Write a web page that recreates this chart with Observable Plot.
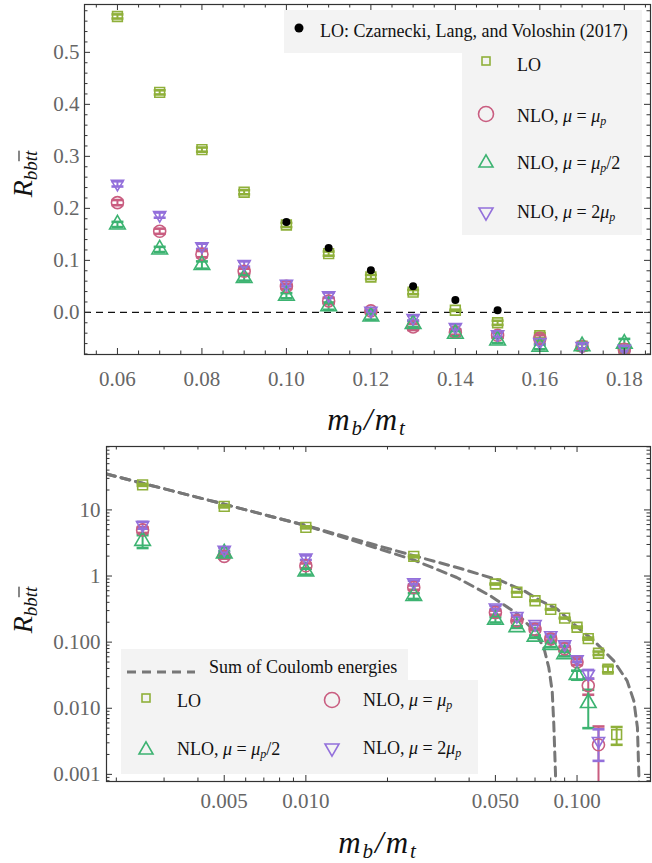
<!DOCTYPE html>
<html><head><meta charset="utf-8">
<script src="https://cdn.jsdelivr.net/npm/d3@7"></script>
<script src="https://cdn.jsdelivr.net/npm/@observablehq/plot@0.6"></script>
<style>
body{margin:0;background:#fff;}
#wrap{position:relative;width:652px;height:863px;font-family:"Liberation Serif",serif;color:#111;}
.abs{position:absolute;}
.plot{position:absolute;left:0;}
.ttl{position:absolute;font-family:"Liberation Serif",serif;font-style:italic;font-size:28px;white-space:nowrap;transform:translate(-50%,-50%);color:#111;}
.ttl sub{font-size:19px;vertical-align:-5px;}
.xtl{font-size:31px;letter-spacing:2px;}
.xtl sub{font-size:21px;}
.ytl{transform:translate(-50%,-50%) rotate(-90deg);}
.lbox{position:absolute;background:#f3f3f3;}
.ltxt{position:absolute;font-size:18px;white-space:nowrap;transform:translateY(-50%);color:#111;}
.ltxt i{font-style:italic;}
.ltxt sub{font-size:12px;font-style:italic;vertical-align:-3px;}
</style></head><body><div id="wrap"></div>
<script>
// ---------------- data ----------------
const massRatio = [0.0025, 0.005, 0.01, 0.025, 0.05, 0.06, 0.07, 0.08, 0.09, 0.10, 0.11, 0.12, 0.13, 0.14, 0.15, 0.16, 0.17, 0.18];
const rLO       = [23.9, 11.3, 5.45, 1.98, 0.757, 0.569, 0.423, 0.313, 0.231, 0.168, 0.113, 0.068, 0.039, 0.0040, -0.020, -0.045, -0.065, -0.070];
const errLO     = [0.8, 0.4, 0.2, 0.06, 0.015, 0.004, 0.004, 0.004, 0.004, 0.004, 0.004, 0.004, 0.004, 0.0012, 0.004, 0.005, 0.004, 0.004];
const rNLO      = [4.98, 1.98, 1.43, 0.67, 0.28, 0.211, 0.156, 0.112, 0.079, 0.050, 0.022, 0.0028, -0.028, -0.038, -0.044, -0.050, -0.065, -0.071];
const errNLO    = [0.5, 0.15, 0.12, 0.05, 0.02, 0.005, 0.005, 0.006, 0.005, 0.005, 0.006, 0.0025, 0.006, 0.005, 0.005, 0.006, 0.005, 0.006];
const rNLOhalf  = [3.4, 2.2, 1.17, 0.50, 0.218, 0.169, 0.121, 0.091, 0.066, 0.032, 0.012, -0.008, -0.022, -0.041, -0.054, -0.066, -0.065, -0.060];
const errNLOhalf= [0.75, 0.2, 0.12, 0.05, 0.02, 0.005, 0.005, 0.007, 0.005, 0.005, 0.007, 0.006, 0.006, 0.005, 0.005, 0.005, 0.005, 0.009];
const rNLOdouble= [5.9, 2.5, 1.9, 0.80, 0.334, 0.247, 0.187, 0.127, 0.093, 0.055, 0.033, 0.0032, -0.011, -0.028, -0.042, -0.057, -0.065, -0.070];
const errNLOdouble=[0.7, 0.2, 0.15, 0.05, 0.02, 0.005, 0.005, 0.005, 0.005, 0.005, 0.005, 0.0016, 0.005, 0.005, 0.005, 0.005, 0.005, 0.005];

const czarneckiX = [0.10, 0.11, 0.12, 0.13, 0.14, 0.15];
const czarneckiY = [0.174, 0.124, 0.081, 0.050, 0.024, 0.004];

const coulombUpperX = [0.00184, 0.0025, 0.005, 0.01, 0.0126, 0.025, 0.0372, 0.0523, 0.0637, 0.0733, 0.0845, 0.0973, 0.1153, 0.1367, 0.153, 0.162, 0.167, 0.169, 0.1695];
const coulombUpperY = [35, 25.3, 12.2, 5.8, 4.45, 2.03, 1.3, 0.85, 0.6, 0.423, 0.316, 0.187, 0.105, 0.052, 0.026, 0.0129, 0.0051, 0.001, 0.0005];
const coulombLowerX = [0.00184, 0.0025, 0.005, 0.01, 0.0126, 0.025, 0.036, 0.048, 0.0601, 0.0693, 0.0754, 0.0787, 0.081, 0.0821, 0.0833, 0.0835];
const coulombLowerY = [35, 25.3, 12.2, 5.8, 4.3, 1.75, 0.95, 0.5, 0.27, 0.15, 0.083, 0.041, 0.018, 0.0057, 0.001, 0.0005];

const topXTicks = [0.06, 0.08, 0.10, 0.12, 0.14, 0.16, 0.18];
const topYTicks = [0.0, 0.1, 0.2, 0.3, 0.4, 0.5];
const botXTicks = [0.005, 0.01, 0.05, 0.1];
const botXLabels = ["0.005", "0.010", "0.050", "0.100"];
const botYTicks = [0.001, 0.01, 0.1, 1, 10];
const botYLabels = ["0.001", "0.010", "0.100", "1", "10"];

// ---------------- styles ----------------
const series = [
  {key: "LO", y: rLO, err: errLO, color: "#8fb03a", symbol: "square", r: 5.5},
  {key: "NLOp", y: rNLO, err: errNLO, color: "#c95d80", symbol: "circle", r: 6},
  {key: "NLOhalf", y: rNLOhalf, err: errNLOhalf, color: "#3cb371", symbol: "triangle", r: 5.8},
  {key: "NLOdouble", y: rNLOdouble, err: errNLOdouble, color: "#9370db", symbol: "tridown", r: 5.8}
];
const triDown = {draw(ctx, size){ const s = Math.sqrt(size)*0.6824, t = s/2, u = s*Math.sqrt(3)/2; ctx.moveTo(0, s); ctx.lineTo(u, -t); ctx.lineTo(-u, -t); ctx.closePath(); }};
const capSym = {draw(ctx, size){ const w = Math.sqrt(size/Math.PI); ctx.moveTo(-w, 0); ctx.lineTo(w, 0); }};
const sym = s => s === "tridown" ? triDown : s;

const rows = series.flatMap(s => s.y.map((y, i) => ({x: massRatio[i], y, e: s.err[i], key: s.key})));
const czRows = czarneckiX.map((x, i) => ({x, y: czarneckiY[i]}));
const coulombRows = [
  ...coulombUpperX.map((x, i) => ({x, y: coulombUpperY[i], curve: "upper"})),
  ...coulombLowerX.map((x, i) => ({x, y: coulombLowerY[i], curve: "lower"}))
];

const FONT = "Liberation Serif";
const tickColor = "#333";

function frameTicks(xMajor, xMinor, yMajor, yMinor, fw, fh) {
  const L = 6, l = 3.5, sw = 1;
  return [
    Plot.ruleX(xMajor, {x: d => d, insetTop: fh - L, stroke: tickColor, strokeWidth: sw}),
    Plot.ruleX(xMajor, {x: d => d, insetBottom: fh - L, stroke: tickColor, strokeWidth: sw}),
    Plot.ruleX(xMinor, {x: d => d, insetTop: fh - l, stroke: tickColor, strokeWidth: sw}),
    Plot.ruleX(xMinor, {x: d => d, insetBottom: fh - l, stroke: tickColor, strokeWidth: sw}),
    Plot.ruleY(yMajor, {y: d => d, insetRight: fw - L, stroke: tickColor, strokeWidth: sw}),
    Plot.ruleY(yMajor, {y: d => d, insetLeft: fw - L, stroke: tickColor, strokeWidth: sw}),
    Plot.ruleY(yMinor, {y: d => d, insetRight: fw - l, stroke: tickColor, strokeWidth: sw}),
    Plot.ruleY(yMinor, {y: d => d, insetLeft: fw - l, stroke: tickColor, strokeWidth: sw})
  ];
}

function dataMarks(data, isLog) {
  const marks = [];
  for (const s of series) {
    const d = data.filter(r => r.key === s.key);
    const lo = r => isLog ? Math.max(r.y - r.e, 1e-7) : r.y - r.e;
    marks.push(Plot.ruleX(d, {x: "x", y1: lo, y2: r => r.y + r.e, stroke: s.color, strokeWidth: 2, clip: true}));
    marks.push(Plot.dot(d.filter(r => !isLog || r.y - r.e > 0), {x: "x", y: r => r.y - r.e, symbol: capSym, r: 6, stroke: s.color, strokeWidth: 2.6, fill: "none", clip: true}));
    marks.push(Plot.dot(d, {x: "x", y: r => r.y + r.e, symbol: capSym, r: 6, stroke: s.color, strokeWidth: 2.6, fill: "none", clip: true}));
  }
  for (const s of series) {
    const d = data.filter(r => r.key === s.key);
    marks.push(Plot.dot(d, {x: "x", y: "y", symbol: sym(s.symbol), r: s.r, stroke: s.color, strokeWidth: 1.6, fill: "none", clip: true}));
  }
  return marks;
}

const range = (a, b, step) => { const out = []; for (let v = a; v <= b + 1e-9; v += step) out.push(+v.toFixed(6)); return out; };

// ---------------- top panel ----------------
const topW = 652, topH = 436, tML = 84, tMR = 2, tMT = 4, tMB = 82;
const tFW = topW - tML - tMR, tFH = topH - tMT - tMB;
const topRows = rows.filter(r => r.x >= 0.055);
const topPlot = Plot.plot({
  width: topW, height: topH,
  marginLeft: tML, marginRight: tMR, marginTop: tMT, marginBottom: tMB,
  x: {domain: [0.0522, 0.1862], axis: null},
  y: {domain: [-0.081, 0.592], axis: null},
  style: {fontFamily: FONT, fontSize: "21px", color: "#666", background: "transparent"},
  marks: [
    Plot.ruleY([0], {stroke: "#111", strokeWidth: 1.3, strokeDasharray: "7,5"}),
    ...dataMarks(topRows, false),
    Plot.dot(czRows, {x: "x", y: "y", r: 4, fill: "#000", stroke: "none"}),
    Plot.frame({stroke: tickColor, strokeWidth: 1.2}),
    ...frameTicks(topXTicks, range(0.055, 0.185, 0.005).filter(v => !topXTicks.some(t => Math.abs(t - v) < 1e-6)),
                  topYTicks, range(-0.08, 0.58, 0.02).filter(v => !topYTicks.some(t => Math.abs(t - v) < 1e-6)), tFW, tFH),
    Plot.text(topXTicks, {x: d => d, frameAnchor: "bottom", lineAnchor: "top", dy: 17, text: d => d.toFixed(2), fill: "#666", fontSize: 21}),
    Plot.text(topYTicks, {y: d => d, frameAnchor: "left", textAnchor: "end", dx: -5, text: d => d.toFixed(1), fill: "#666", fontSize: 21})
  ]
});

// ---------------- bottom panel ----------------
const botW = 652, botH = 427, bML = 106, bMR = 2, bMT = 10, bMB = 82;
const bFW = botW - bML - bMR, bFH = botH - bMT - bMB;
const botRows = rows.filter(r => r.y > 0);
const xMinorLog = [];
for (const dec of [0.001, 0.01, 0.1]) for (let k = 1; k <= 9; k++) { const v = +(k * dec).toFixed(6); if (v > 0.00184 && v < 0.1866 && !botXTicks.includes(v)) xMinorLog.push(v); }
const yMinorLog = [];
for (const dec of [0.0001, 0.001, 0.01, 0.1, 1, 10]) for (let k = 2; k <= 9; k++) { const v = +(k * dec).toPrecision(6); if (v > 0.00078 && v < 91) yMinorLog.push(v); }
const botPlot = Plot.plot({
  width: botW, height: botH,
  marginLeft: bML, marginRight: bMR, marginTop: bMT, marginBottom: bMB,
  x: {type: "log", domain: [0.00184, 0.1866], axis: null},
  y: {type: "log", domain: [0.00078, 91], axis: null},
  style: {fontFamily: FONT, fontSize: "21px", color: "#666", background: "transparent"},
  marks: [
    Plot.line(coulombRows, {x: "x", y: "y", z: "curve", stroke: "#777", strokeWidth: 3, strokeDasharray: "9,6", clip: true}),
    ...dataMarks(botRows, true),
    Plot.frame({stroke: tickColor, strokeWidth: 1.2}),
    ...frameTicks(botXTicks, xMinorLog, botYTicks, yMinorLog, bFW, bFH),
    Plot.text(botXTicks, {x: d => d, frameAnchor: "bottom", lineAnchor: "top", dy: 12, text: (d, i) => botXLabels[i], fill: "#666", fontSize: 21}),
    Plot.text(botYTicks, {y: d => d, frameAnchor: "left", textAnchor: "end", dx: -6, text: (d, i) => botYLabels[i], fill: "#666", fontSize: 21})
  ]
});

const wrap = document.getElementById("wrap");
topPlot.classList.add("plot"); topPlot.style.top = "0px";
botPlot.classList.add("plot"); botPlot.style.top = "436px";
wrap.appendChild(topPlot); wrap.appendChild(botPlot);

// ---------------- titles & legends (HTML overlays) ----------------
function add(html, cls, style) { const d = document.createElement("div"); d.className = cls; d.innerHTML = html; Object.assign(d.style, style); wrap.appendChild(d); return d; }
const rLabel = 'R<sub>bb<span style="text-decoration:overline">tt</span></sub>';
const mLabel = 'm<sub>b</sub>/m<sub>t</sub>';
add(rLabel, "ttl ytl", {left: "24px", top: "174px"});
add(rLabel, "ttl ytl", {left: "24px", top: "610px"});
add(mLabel, "ttl xtl", {left: "367px", top: "421px"});
add(mLabel, "ttl xtl", {left: "378px", top: "844px"});

function marker(kind, color, cx, cy, size) {
  const s = 24;
  let shape = "";
  const c = s / 2;
  if (kind === "dot") shape = `<circle cx="${c}" cy="${c}" r="${size}" fill="#000"/>`;
  if (kind === "square") shape = `<rect x="${c - size/2}" y="${c - size/2}" width="${size}" height="${size}" fill="none" stroke="${color}" stroke-width="1.6"/>`;
  if (kind === "circle") shape = `<circle cx="${c}" cy="${c}" r="${size}" fill="none" stroke="${color}" stroke-width="1.6"/>`;
  if (kind === "triangle") { const h = size * Math.sqrt(3) / 2; shape = `<path d="M${c},${c - h*2/3} L${c + size/2},${c + h/3} L${c - size/2},${c + h/3} Z" fill="none" stroke="${color}" stroke-width="1.6"/>`; }
  if (kind === "tridown") { const h = size * Math.sqrt(3) / 2; shape = `<path d="M${c},${c + h*2/3} L${c + size/2},${c - h/3} L${c - size/2},${c - h/3} Z" fill="none" stroke="${color}" stroke-width="1.6"/>`; }
  add(`<svg width="${s}" height="${s}">${shape}</svg>`, "abs", {left: (cx - c) + "px", top: (cy - c) + "px", width: s + "px", height: s + "px"});
}
const mu = '<i>μ</i>';
const legendText = {
  LO: "LO",
  NLOp: `NLO, ${mu} = ${mu}<sub>p</sub>`,
  NLOhalf: `NLO, ${mu} = ${mu}<sub>p</sub>/2`,
  NLOdouble: `NLO, ${mu} = 2${mu}<sub>p</sub>`
};

// top legend
add("", "lbox", {left: "284px", top: "10px", width: "358px", height: "43px"});
add("", "lbox", {left: "462px", top: "52px", width: "180px", height: "183px"});
marker("dot", "#000", 299, 28, 4.5);
add("LO: Czarnecki, Lang, and Voloshin (2017)", "ltxt", {left: "320px", top: "31px"});
const topLeg = [["square", 0, 61, 65, 8], ["circle", 1, 114, 117, 7.5], ["triangle", 2, 163, 164, 14], ["tridown", 3, 212, 213, 14]];
for (const [k, i, my, ty, sz] of topLeg) {
  marker(k, series[i].color, 486, my, sz);
  add(legendText[series[i].key], "ltxt", {left: "517px", top: ty + "px"});
}

// bottom legend
add("", "lbox", {left: "121px", top: "649px", width: "287px", height: "32px"});
add("", "lbox", {left: "121px", top: "680px", width: "357px", height: "94px"});
add(`<svg width="70" height="8"><line x1="1" y1="4" x2="69" y2="4" stroke="#777" stroke-width="3" stroke-dasharray="9,6"/></svg>`, "abs", {left: "126px", top: "662px"});
add("Sum of Coulomb energies", "ltxt", {left: "209px", top: "667px"});
const botLeg = [["square", 0, 146, 698, 177, 701, 8], ["circle", 1, 332, 700, 363, 701, 7.5], ["triangle", 2, 146, 750, 177, 750, 14], ["tridown", 3, 332, 748, 363, 749, 14]];
for (const [k, i, mx, my, tx, ty, sz] of botLeg) {
  marker(k, series[i].color, mx, my, sz);
  add(legendText[series[i].key], "ltxt", {left: tx + "px", top: ty + "px"});
}
</script></body></html>
